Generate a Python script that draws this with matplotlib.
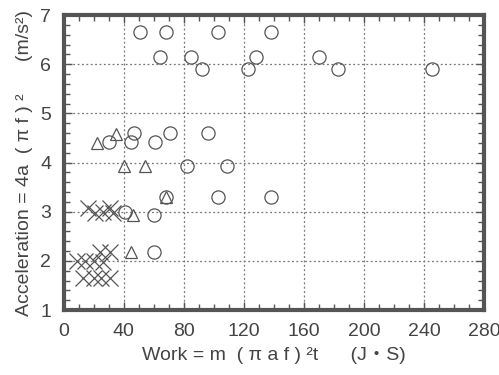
import numpy as np
import matplotlib.pyplot as plt
from matplotlib.ticker import MultipleLocator

# --- data ---
circle_x = [51, 68, 103, 138, 64, 85, 92, 123, 128, 170, 183, 245,
            30, 45, 47, 61, 71, 96, 82, 109, 68, 103, 138, 41, 60, 60]
circle_y = [6.65, 6.65, 6.65, 6.65, 6.14, 6.14, 5.9, 5.9, 6.14, 6.14, 5.9, 5.9,
            4.41, 4.41, 4.6, 4.41, 4.6, 4.6, 3.92, 3.92, 3.29, 3.29, 3.29, 2.99, 2.93, 2.19]

tri_x = [22, 35, 40, 54, 68, 46, 45]
tri_y = [4.40, 4.59, 3.92, 3.92, 3.29, 2.93, 2.19]

cross_x = [16, 21, 26, 31, 33, 24, 31, 9, 14, 20, 26, 13, 20, 25, 31]
cross_y = [3.08, 2.98, 3.0, 3.07, 2.98, 2.19, 2.19, 1.99, 1.99, 2.0, 1.97, 1.66, 1.66, 1.66, 1.66]

col = '#555555'
txt = '#444444'
plt.rcParams['font.family'] = ['Liberation Sans', 'DejaVu Sans']

fig = plt.figure(figsize=(4.99, 3.75), dpi=100)
ax = fig.add_axes([0.128, 0.173, 0.842, 0.787])

ax.plot(circle_x, circle_y, 'o', ms=9.5, mfc='none', mec=col, mew=0.9)
ax.plot(tri_x, tri_y, '^', ms=8, mfc='none', mec=col, mew=0.9)
ax.plot(cross_x, cross_y, 'x', ms=11.5, mec=col, mew=0.9)

ax.set_xlim(0, 280)
ax.set_ylim(1, 7)
ax.xaxis.set_major_locator(MultipleLocator(40))
ax.xaxis.set_minor_locator(MultipleLocator(10))
ax.yaxis.set_major_locator(MultipleLocator(1))
ax.yaxis.set_minor_locator(MultipleLocator(0.2))
ax.tick_params(which='both', direction='in', top=True, right=True, colors=col,
               labelsize=14, labelcolor=txt)
ax.tick_params(which='major', length=6, width=1)
ax.tick_params(which='minor', length=4, width=1)
ax.tick_params(axis='x', pad=9)
ax.tick_params(axis='y', pad=9)
for s in ax.spines.values():
    s.set_linewidth(3)
    s.set_color(col)

ax.grid(True, which='major', linestyle=(0, (1.5, 2)), color='#777777', linewidth=0.9)

ax.set_xlabel('Work = m  ( π a f ) ²t      (J・S)', fontsize=14, color=txt,
              family=['Liberation Sans', 'DejaVu Sans', 'Noto Sans CJK JP'], labelpad=5)
ax.set_ylabel('Acceleration = 4a  ( π f ) ²      (m/s²)', fontsize=14, color=txt, labelpad=5)

fig.savefig('out.png', dpi=100)
